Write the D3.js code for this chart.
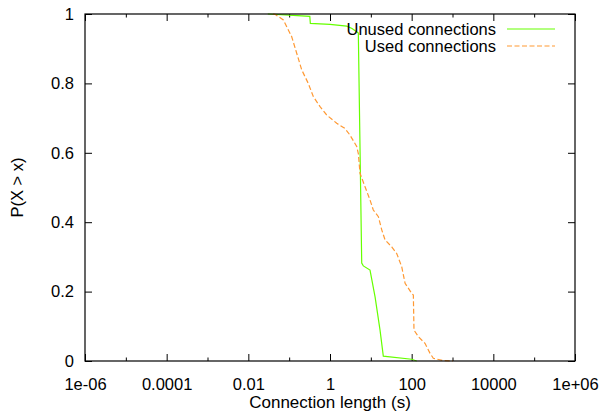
<!DOCTYPE html>
<html>
<head>
<meta charset="utf-8">
<script src="https://cdn.jsdelivr.net/npm/d3@7/dist/d3.min.js"></script>
<style>
  body { margin: 0; background: #fff; }
  svg { display: block; font-family: "Liberation Sans", Arial, sans-serif; }
</style>
</head>
<body>
<svg id="chart" width="602" height="416"></svg>
<script>
// CCDF of connection lengths
const unusedX = [0.03, 0.1, 0.32, 0.33, 1.0, 2.57, 3.46, 4.5, 4.94, 5.98, 6.55, 9.55, 12.7, 16.8, 20.2, 100, 133]
const unusedY = [1, 0.997, 0.993, 0.973, 0.97, 0.965, 0.958, 0.949, 0.945, 0.282, 0.274, 0.262, 0.185, 0.089, 0.014, 0.005, 0]

const usedX = [0.04, 0.045, 0.072, 0.115, 0.153, 0.203, 0.294, 0.39, 0.57, 0.83, 1.46, 2.33, 3.09, 4.51, 4.94, 5.43,
  7.21, 9.55, 11.5, 15.3, 18.5, 22.3, 32.5, 43, 57, 69, 100, 110, 114, 146, 212, 282, 339, 596, 1030]
const usedY = [1, 0.999, 0.983, 0.935, 0.887, 0.839, 0.8, 0.762, 0.733, 0.709, 0.685, 0.67, 0.651, 0.618, 0.598, 0.541,
  0.502, 0.464, 0.435, 0.416, 0.378, 0.349, 0.329, 0.31, 0.272, 0.224, 0.195, 0.19, 0.089, 0.07, 0.051, 0.022, 0.008, 0.001, 0]

const xMajor = [1e-6, 1e-4, 1e-2, 1, 1e2, 1e4, 1e6]
const xMajorLabels = ["1e-06", "0.0001", "0.01", "1", "100", "10000", "1e+06"]
const xMinor = [1e-5, 1e-3, 1e-1, 1e1, 1e3, 1e5]
const yTicks = [0, 0.2, 0.4, 0.6, 0.8, 1]
const yTickLabels = ["0", "0.2", "0.4", "0.6", "0.8", "1"]

const series = [
  { name: "Unused connections", xs: unusedX, ys: unusedY, color: "#66ff00", dash: null },
  { name: "Used connections", xs: usedX, ys: usedY, color: "#ff9933", dash: "5,2.5" },
]

const margin = { top: 14, right: 27, bottom: 55, left: 85 }
const width = 602 - margin.left - margin.right
const height = 416 - margin.top - margin.bottom

const svg = d3.select("#chart")
const g = svg.append("g").attr("transform", `translate(${margin.left},${margin.top})`)

const x = d3.scaleLog().domain([1e-6, 1e6]).range([0, width])
const y = d3.scaleLinear().domain([0, 1]).range([height, 0])

const fontSize = 16.5
const major = 7
const minor = 3.5

// inward ticks on all four sides, gnuplot style
const styleAxis = sel => {
  sel.select(".domain").remove()
  sel.selectAll(".tick line").attr("stroke", "#000")
  sel.selectAll(".tick text").attr("fill", "#000").style("font-size", fontSize + "px")
}

g.append("g")
  .attr("transform", `translate(0,${height})`)
  .call(d3.axisBottom(x).tickValues(xMajor).tickSize(-major).tickPadding(17)
    .tickFormat((d, i) => xMajorLabels[i]))
  .call(styleAxis)
g.append("g")
  .attr("transform", `translate(0,${height})`)
  .call(d3.axisBottom(x).tickValues(xMinor).tickSize(-minor).tickFormat(""))
  .call(styleAxis)
g.append("g")
  .call(d3.axisTop(x).tickValues(xMajor).tickSize(-major).tickFormat(""))
  .call(styleAxis)
g.append("g")
  .call(d3.axisTop(x).tickValues(xMinor).tickSize(-minor).tickFormat(""))
  .call(styleAxis)

g.append("g")
  .call(d3.axisLeft(y).tickValues(yTicks).tickSize(-major).tickPadding(11)
    .tickFormat((d, i) => yTickLabels[i]))
  .call(styleAxis)
g.append("g")
  .attr("transform", `translate(${width},0)`)
  .call(d3.axisRight(y).tickValues(yTicks).tickSize(-major).tickFormat(""))
  .call(styleAxis)

const line = d3.line()
  .x(d => x(d[0]))
  .y(d => y(d[1]))

series.forEach(s => {
  const pts = s.xs.map((v, i) => [v, s.ys[i]])
  g.append("path")
    .datum(pts)
    .style("fill", "none")
    .style("stroke", s.color)
    .style("stroke-width", 1.2)
    .style("stroke-dasharray", s.dash)
    .attr("d", line)
})

// border
g.append("rect")
  .attr("width", width)
  .attr("height", height)
  .attr("fill", "none")
  .attr("stroke", "#000")
  .attr("stroke-width", 1.2)

// legend
const legend = g.append("g").attr("transform", `translate(${width - 79},0)`)
series.forEach((s, i) => {
  const ly = 15 + i * 17
  legend.append("text")
    .attr("x", 0)
    .attr("y", ly)
    .attr("dy", "0.35em")
    .attr("text-anchor", "end")
    .style("font-size", fontSize + "px")
    .text(s.name)
  legend.append("path")
    .attr("d", `M11,${ly}H59`)
    .style("fill", "none")
    .style("stroke", s.color)
    .style("stroke-width", 1.2)
    .style("stroke-dasharray", s.dash)
})

// axis titles
svg.append("text")
  .attr("x", margin.left + width / 2)
  .attr("y", 408)
  .attr("text-anchor", "middle")
  .style("font-size", "17px")
  .text("Connection length (s)")

svg.append("text")
  .attr("transform", `translate(23,${margin.top + height / 2}) rotate(-90)`)
  .attr("text-anchor", "middle")
  .style("font-size", fontSize + "px")
  .text("P(X > x)")
</script>
</body>
</html>
